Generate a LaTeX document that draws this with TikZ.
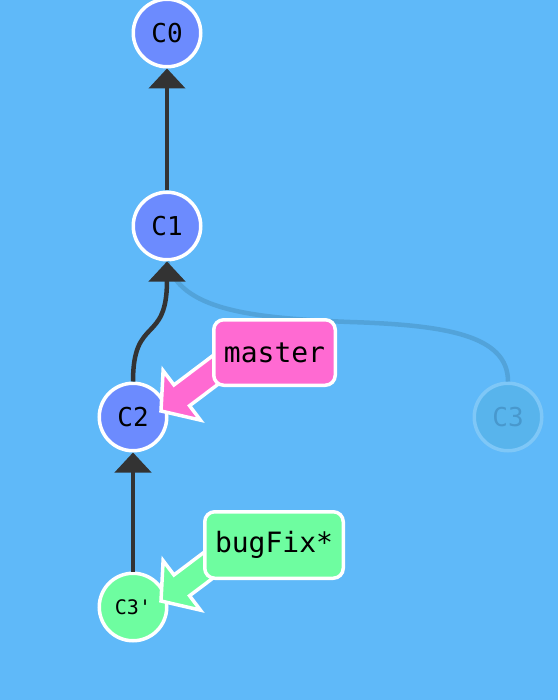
\documentclass[tikz,border=0pt]{standalone}
\usepackage{fontspec}
\setmonofont{DejaVu Sans Mono}
\usetikzlibrary{arrows.meta}
\definecolor{bg}{RGB}{95,185,249}
\definecolor{commitc}{RGB}{108,139,254}
\definecolor{greenc}{RGB}{110,253,160}
\definecolor{pinkc}{RGB}{255,106,210}
\definecolor{edgec}{RGB}{51,51,51}
\definecolor{fadefill}{RGB}{88,180,236}
\definecolor{fadeborder}{RGB}{126,199,247}
\definecolor{fadetext}{RGB}{72,152,205}
\definecolor{fadeline}{RGB}{82,163,218}
\begin{document}
\begin{tikzpicture}[x=1pt,y=-1pt,
  commitnode/.style={circle, draw=white, line width=3.5pt, fill=commitc,
    minimum size=67.5pt, inner sep=0pt, text=black,
    font=\ttfamily\fontsize{26}{26}\selectfont},
  fadednode/.style={commitnode, draw=fadeborder, fill=fadefill, text=fadetext},
  edgeline/.style={draw=edgec, line width=4.5pt, -{Triangle[width=36pt,length=20pt]}},
  fadeedge/.style={draw=fadeline, line width=4.5pt},
  labelbox/.style={draw=white, line width=3.5pt, rounded corners=10pt, inner sep=0pt,
    text=black, font=\ttfamily\fontsize{28}{28}\selectfont},
  labelarrow/.style={draw=white, line width=3.5pt, line join=miter}
]
\fill[bg] (0,0) rectangle (558,700);
\useasboundingbox (0,0) rectangle (558,700);

% commits
\node[commitnode] (C0) at (167,33) {C0};
\node[commitnode] (C1) at (167,226) {C1};
\node[commitnode] (C2) at (133,417) {C2};
\node[fadednode] (C3) at (508,417) {C3};
\node[commitnode, fill=greenc, font=\ttfamily\fontsize{20}{20}\selectfont] (C3p) at (133,607) {C3'};

% edges
\draw[fadeedge] (C3.north) .. controls (508,335) and (445,325) .. (350,322)
  .. controls (250,318) and (180,310) .. (C1.south);
\draw[edgeline] (C1) -- (C0);
\draw[edgeline] (C2.north) .. controls (133,315) and (167,345) .. (C1.south);
\draw[edgeline] (C3p) -- (C2);

% branch labels
\coordinate (mtip) at (161,411);
\coordinate (btip) at (161,601);
\begin{scope}[shift={(mtip)}, rotate=37]
  \filldraw[labelarrow, fill=pinkc] (0,0) -- (26,31) -- (26,13) -- (100,13)
    -- (100,-13) -- (26,-13) -- (26,-31) -- cycle;
\end{scope}
\node[labelbox, fill=pinkc, minimum width=121.5pt, minimum height=65.5pt] (master) at (274.5,352.5) {master};

\begin{scope}[shift={(btip)}, rotate=37]
  \filldraw[labelarrow, fill=greenc] (0,0) -- (26,31) -- (26,13) -- (100,13)
    -- (100,-13) -- (26,-13) -- (26,-31) -- cycle;
\end{scope}
\node[labelbox, fill=greenc, minimum width=138.5pt, minimum height=66.5pt] (bugfix) at (274,545) {bugFix*};
\end{tikzpicture}
\end{document}
